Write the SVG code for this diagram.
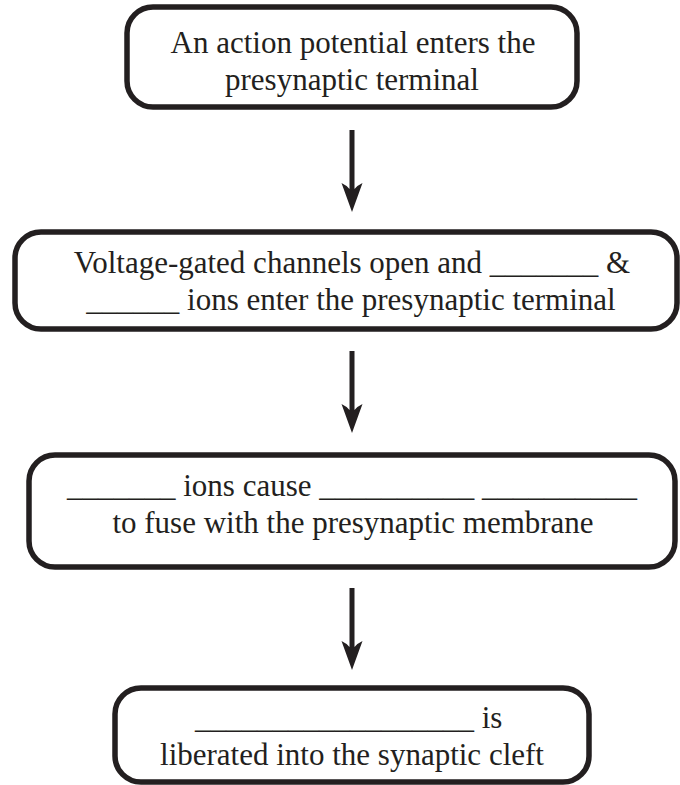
<svg xmlns="http://www.w3.org/2000/svg" xmlns:xlink="http://www.w3.org/1999/xlink" width="680" height="785" viewBox="0 0 680 785">
<style>
.box{fill:#fff;stroke:#231f20;stroke-width:5.5}
.t{font-family:"Liberation Serif","Times New Roman",serif;font-size:31px;fill:#231f20;text-anchor:middle}
.s{text-anchor:start}
.arr{fill:#231f20}
</style>
<defs>
<path id="arrow" d="M349.5,130 H354.5 V189 Q358,185 362.5,183 L352,212 L341.5,183 Q346,185 349.5,189 Z"/>
</defs>
<rect width="680" height="785" fill="#fff"/>
<g id="connectors" class="arr">
<use xlink:href="#arrow" href="#arrow"/>
<use xlink:href="#arrow" href="#arrow" transform="translate(0,221)"/>
<use xlink:href="#arrow" href="#arrow" transform="translate(0,458)"/>
</g>
<g id="node1">
<rect class="box" x="127" y="7" width="450" height="100" rx="26"/>
<text class="t" x="353" y="53">An action potential enters the</text>
<text class="t" x="352" y="90">presynaptic terminal</text>
</g>
<g id="node2">
<rect class="box" x="15" y="232" width="662" height="97" rx="26"/>
<text class="t" x="352" y="273">Voltage-gated channels open and _______ &amp;</text>
<text class="t" x="351" y="310">______ ions enter the presynaptic terminal</text>
</g>
<g id="node3">
<rect class="box" x="29" y="455" width="646" height="112" rx="26"/>
<text class="t" x="352" y="496">_______ ions cause __________ __________</text>
<text class="t" x="353" y="533">to fuse with the presynaptic membrane</text>
</g>
<g id="node4">
<rect class="box" x="115" y="688" width="474" height="94" rx="26"/>
<text class="t s" x="195" y="728">__________________ is</text>
<text class="t" x="352" y="765">liberated into the synaptic cleft</text>
</g>
</svg>
